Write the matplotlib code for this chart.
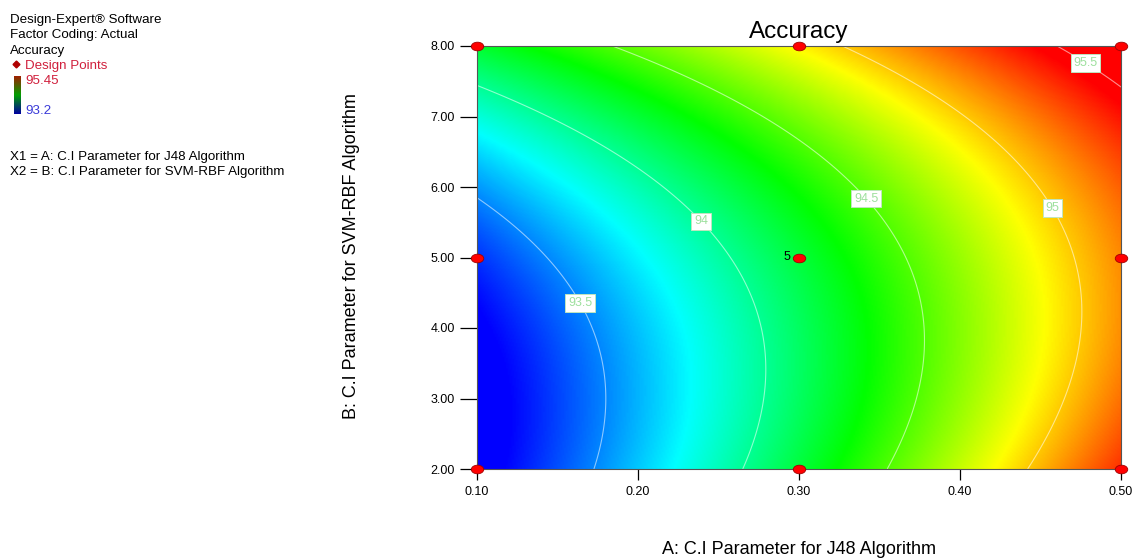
import numpy as np
import matplotlib
matplotlib.use("Agg")
import matplotlib.pyplot as plt
from matplotlib.colors import LinearSegmentedColormap
from matplotlib.path import Path

plt.rcParams['font.family'] = ['Liberation Sans', 'DejaVu Sans']

# ---- data ----
# factor ranges (actual units)
a_range = [0.10, 0.50]
b_range = [2.0, 8.0]
# quadratic model in coded units: [b0, A, B, AB, A^2, B^2]
model_coefs = [94.193, 0.9135, 0.355, -0.1975, 0.036, 0.355]
contour_levels = [93.5, 94.0, 94.5, 95.0, 95.5]
label_pos_a = [0.164, 0.240, 0.342, 0.457, 0.4795]
label_pos_b = [4.35, 5.53, 5.84, 5.70, 7.82]
design_a = [0.1, 0.1, 0.1, 0.3, 0.3, 0.3, 0.5, 0.5, 0.5]
design_b = [2.0, 5.0, 8.0, 2.0, 5.0, 8.0, 2.0, 5.0, 8.0]
center_reps = "5"
x_ticks = [0.10, 0.20, 0.30, 0.40, 0.50]
y_ticks = [2.00, 3.00, 4.00, 5.00, 6.00, 7.00, 8.00]
color_hi = 95.45
color_lo = 93.2

# ---- surface ----
xs = np.linspace(a_range[0], a_range[1], 400)
ys = np.linspace(b_range[0], b_range[1], 400)
X, Y = np.meshgrid(xs, ys)
A = (X - 0.3) / 0.2
B = (Y - 5.0) / 3.0
c = model_coefs
Z = c[0] + c[1]*A + c[2]*B + c[3]*A*B + c[4]*A**2 + c[5]*B**2

cmap = LinearSegmentedColormap.from_list(
    "de", ["#0000ff", "#00ffff", "#00ff00", "#ffff00", "#ff0000"])

fig = plt.figure(figsize=(11.36, 5.6), dpi=100)
ax = fig.add_axes([477/1136, 1-469/560, (1121-477)/1136, (469-46)/560])
ax.imshow(Z, extent=[a_range[0], a_range[1], b_range[0], b_range[1]],
          origin='lower', aspect='auto', cmap=cmap,
          vmin=color_lo, vmax=color_hi, interpolation='bilinear')
cs = ax.contour(X, Y, Z, levels=contour_levels, colors='white',
                linewidths=0.8, alpha=0.55)
labels = ax.clabel(cs, contour_levels, inline=False,
                   manual=list(zip(label_pos_a, label_pos_b)),
                   fmt=lambda v: f"{v:g}", fontsize=9)
for t in labels:
    t.set_rotation(0)
    t.set_alpha(1)
    t.set_color('#9ee09e')
    t.set_bbox(dict(facecolor='white', edgecolor='#bfe6bf', pad=2.0,
                    linewidth=0.7, alpha=1))

# design points (elliptical red markers)
circ = Path.unit_circle()
ell = Path(circ.vertices * np.array([1.45, 1.0]), circ.codes)
ax.plot(design_a, design_b, linestyle='none', marker=ell, markersize=9,
        markerfacecolor='#ff0000', markeredgecolor='#a00000',
        markeredgewidth=0.6, clip_on=False, zorder=5)
ax.annotate(center_reps, (design_a[4], design_b[4]), xytext=(-6, 0),
            textcoords='offset points', ha='right', va='center', fontsize=9)

ax.set_xlim(a_range)
ax.set_ylim(b_range)
ax.set_xticks(x_ticks)
ax.set_xticklabels([f"{v:.2f}" for v in x_ticks])
ax.set_yticks(y_ticks)
ax.set_yticklabels([f"{v:.2f}" for v in y_ticks])
ax.tick_params(axis='x', labelsize=9, length=8, width=0.9, direction='out', pad=4)
ax.tick_params(axis='y', labelsize=9, length=12, width=0.9, direction='out', pad=4)
for s in ax.spines.values():
    s.set_color('#555555')
    s.set_linewidth(0.8)
ax.set_title("Accuracy", fontsize=17.5, pad=6)

fig.text(799/1136, 1-549/560, "A: C.I Parameter for J48 Algorithm",
         ha='center', va='center', fontsize=13)
fig.text(352/1136, 1-256/560, "B: C.I Parameter for SVM-RBF Algorithm",
         ha='center', va='center', rotation=90, fontsize=13)

# ---- top-left info block ----
def ft(xp, yp, s, **kw):
    fig.text(xp/1136, 1-yp/560, s, va='center', ha='left', fontsize=9.6, **kw)

ft(10, 20, "Design-Expert® Software")
ft(10, 35, "Factor Coding: Actual")
ft(10, 51, "Accuracy")
fig.lines.append(plt.Line2D([16/1136], [1-64/560], transform=fig.transFigure,
                            marker='D', markersize=3.5, color='#b00000',
                            linestyle='none'))
ft(25, 66, "Design Points", color='#d01f3c')
cax = fig.add_axes([14/1136, 1-114/560, 7/1136, 38/560])
cax.imshow(np.linspace(0, 1, 100).reshape(-1, 1), origin='lower',
           aspect='auto', cmap=LinearSegmentedColormap.from_list(
               "leg", ["#0000a0", "#00a000", "#a02000"]))
cax.set_xticks([]); cax.set_yticks([])
for s in cax.spines.values():
    s.set_visible(False)
ft(25, 81, f"{color_hi:g}", color='#d01f3c')
ft(25, 111, f"{color_lo:g}", color='#3a3ad8')
ft(10, 157, "X1 = A: C.I Parameter for J48 Algorithm")
ft(10, 172, "X2 = B: C.I Parameter for SVM-RBF Algorithm")

fig.savefig("out.png", dpi=100)
